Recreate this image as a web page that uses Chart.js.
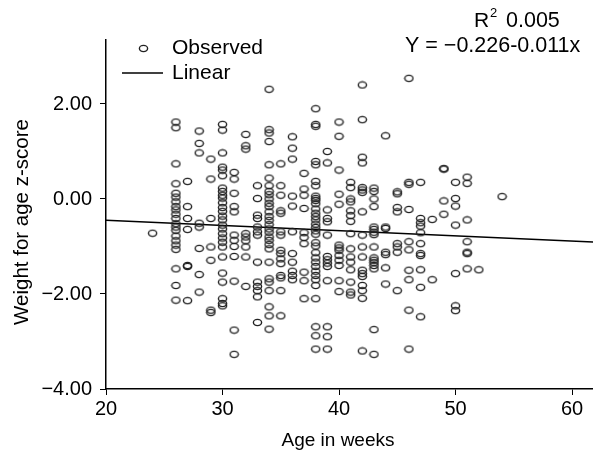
<!DOCTYPE html>
<html lang="en">
<head>
<meta charset="UTF-8">
<title>Weight for age z-score by age</title>
<script src="https://cdn.jsdelivr.net/npm/chart.js"></script>
<style>
  body { margin: 0; background: #fff; }
  .wrap { position: relative; width: 593px; height: 459px; }
</style>
</head>
<body>
<div class="wrap"><canvas id="scatterChart"></canvas></div>
<script>
  const weeks = [24, 26, 27, 28, 29, 30, 31, 32, 33, 34, 35, 36, 37, 38, 39, 40, 41, 42, 43, 44, 45, 46, 47, 48, 49, 50, 51, 52, 54];
  const zScores = [
    [-0.72],
    [1.62, 1.50, 0.74, 0.32, 0.12, 0.04, -0.06, -0.16, -0.23, -0.32, -0.41, -0.52, -0.59, -0.66, -0.78, -0.88, -0.97, -1.06, -1.47, -1.82, -2.13],
    [0.37, -0.16, -0.41, -0.64, -1.40, -1.42, -2.14],
    [1.43, 1.17, 0.97, -0.51, -0.59, -1.04, -1.59, -1.96],
    [0.84, 0.42, -0.41, -1.01, -1.29, -2.34, -2.39],
    [1.57, 1.45, 0.97, 0.67, 0.61, 0.49, 0.23, 0.16, 0.08, 0.02, -0.08, -0.18, -0.26, -0.36, -0.44, -0.55, -0.63, -0.73, -0.82, -0.91, -1.01, -1.22, -1.56, -1.75, -2.10, -2.20, -2.25],
    [0.56, 0.42, 0.12, -0.16, -0.27, -0.76, -0.87, -1.00, -1.21, -1.73, -2.76, -3.27],
    [1.36, 1.12, 1.05, -0.73, -0.80, -0.88, -1.01, -1.22, -1.84],
    [0.28, 0.01, -0.34, -0.41, -0.59, -0.69, -0.76, -1.33, -1.75, -1.84, -1.93, -2.06, -2.60],
    [2.31, 1.46, 1.39, 1.21, 0.72, 0.44, 0.28, 0.16, 0.09, 0.00, -0.09, -0.16, -0.27, -0.37, -0.45, -0.54, -0.63, -0.70, -0.80, -0.87, -0.96, -1.05, -1.33, -1.68, -1.75, -1.93, -2.27, -2.46, -2.74],
    [0.74, 0.28, 0.08, -0.25, -0.30, -0.69, -0.76, -1.08, -1.15, -1.26, -1.36, -1.61, -1.66, -1.93, -2.46],
    [1.31, 1.07, 0.84, 0.06, -0.15, -0.69, -1.15, -1.33, -1.52, -1.61, -1.70],
    [0.54, 0.21, 0.08, -0.20, -0.71, -0.81, -0.94, -1.54, -1.72, -2.10],
    [1.90, 1.57, 1.53, 0.79, 0.72, 0.37, 0.28, 0.06, 0.01, -0.03, -0.10, -0.21, -0.30, -0.37, -0.44, -0.53, -0.60, -0.67, -0.74, -0.92, -0.99, -1.13, -1.24, -1.33, -1.42, -1.52, -1.61, -1.70, -1.82, -2.10, -2.69, -2.88, -3.16],
    [1.00, 0.76, -0.23, -0.41, -0.48, -0.76, -1.21, -1.28, -1.35, -1.42, -1.72, -2.69, -2.90, -3.16],
    [1.62, 1.32, 0.61, 0.10, -0.11, -0.97, -1.03, -1.08, -1.19, -1.29, -1.40, -1.72, -1.95],
    [0.35, 0.24, 0.00, -0.06, -0.25, -0.35, -0.47, -0.73, -1.05, -1.22, -1.33, -1.49, -1.75, -1.96, -2.02],
    [2.40, 1.67, 0.88, 0.76, 0.24, 0.19, 0.14, -0.27, -0.76, -1.01, -1.22, -1.50, -1.57, -1.63, -1.82, -1.93, -2.09, -3.20],
    [0.23, 0.16, 0.00, -0.16, -0.59, -0.64, -0.70, -0.75, -1.01, -1.24, -1.29, -1.34, -1.40, -1.47, -2.75, -3.27],
    [1.33, -0.59, -0.62, -1.12, -1.17, -1.45, -1.79],
    [0.15, 0.11, -0.18, -0.27, -0.94, -1.01, -1.12, -1.93],
    [2.54, 0.35, 0.31, -0.22, -0.90, -1.07, -1.50, -1.70, -2.34, -3.16],
    [0.35, -0.41, -0.50, -0.57, -0.71, -0.94, -1.15, -1.19, -1.49, -1.86, -2.48],
    [-0.43, -1.70],
    [0.63, 0.64, -0.04, -0.32],
    [0.35, 0.01, -0.15, -0.55, -1.57, -2.25, -2.35],
    [0.46, 0.33, -0.44, -0.90, -1.12, -1.15, -1.47],
    [-1.49],
    [0.05]
  ];

  // linear fit printed on the figure
  const fitIntercept = -0.226;
  const fitSlope = -0.011;
  const fitRange = [20, 62];

  const xTicks = [20, 30, 40, 50, 60];
  const yTicks = [-4, -2, 0, 2];

  const FONT = "'Liberation Sans', Arial, sans-serif";

  // points
  const observed = [];
  weeks.forEach((w, i) => {
    zScores[i].forEach(z => observed.push({ x: w, y: z }));
  });
  const fitLine = fitRange.map(x => ({ x: x, y: fitIntercept + fitSlope * x }));

  // hollow, slightly flattened ring as marker
  const ring = document.createElement('canvas');
  ring.width = 11;
  ring.height = 9;
  const rc = ring.getContext('2d');
  rc.strokeStyle = '#222';
  rc.lineWidth = 1.4;
  rc.beginPath();
  rc.ellipse(5.5, 4.5, 4.1, 3.1, 0, 0, Math.PI * 2);
  rc.stroke();

  const fmt = v => v.toFixed(2).replace('-', '\u2212');

  // legend, fit annotation and axis titles
  const textPlugin = {
    id: 'texts',
    afterDraw(chart) {
      const c = chart.ctx;
      c.save();
      c.fillStyle = '#000';
      c.textBaseline = 'middle';
      c.font = '21px ' + FONT;

      // legend
      c.drawImage(ring, 138, 44);
      c.fillText('Observed', 172, 48);
      c.strokeStyle = '#000';
      c.lineWidth = 1.3;
      c.beginPath();
      c.moveTo(122, 73);
      c.lineTo(163, 73);
      c.stroke();
      c.fillText('Linear', 172, 73);

      // R squared + equation
      c.fillText('R', 474, 21);
      c.font = '13px ' + FONT;
      c.fillText('2', 490, 13);
      c.font = '21.5px ' + FONT;
      c.fillText('0.005', 506, 21);
      c.fillText('Y = \u22120.226-0.011x', 405, 46);

      // axis titles
      c.textAlign = 'center';
      c.font = '19px ' + FONT;
      c.fillText('Age in weeks', 338, 441);
      c.font = '20.5px ' + FONT;
      c.translate(22, 222);
      c.rotate(-Math.PI / 2);
      c.fillText('Weight for age z-score', 0, 0);
      c.restore();
    }
  };

  new Chart(document.getElementById('scatterChart'), {
    type: 'scatter',
    data: {
      datasets: [
        {
          label: 'Observed',
          data: observed,
          pointStyle: ring,
          pointRadius: 4,
          pointHoverRadius: 4
        },
        {
          label: 'Linear',
          type: 'line',
          data: fitLine,
          borderColor: '#000',
          borderWidth: 1.6,
          pointRadius: 0,
          fill: false
        }
      ]
    },
    options: {
      responsive: true,
      maintainAspectRatio: false,
      animation: false,
      // no automatic padding, the plot runs to the right edge
      layout: { autoPadding: false, padding: { top: 40, right: 0, left: 0, bottom: 0 } },
      plugins: {
        legend: { display: false },
        tooltip: { enabled: false }
      },
      scales: {
        x: {
          type: 'linear',
          min: 20,
          max: 61.8,
          afterBuildTicks: axis => { axis.ticks = xTicks.map(v => ({ value: v })); },
          afterFit: axis => { axis.height = 70; },
          grid: { drawOnChartArea: false, drawTicks: true, tickLength: 6, color: '#000' },
          border: { color: '#000', width: 1.5 },
          ticks: { color: '#000', font: { family: FONT, size: 20 }, padding: 2, maxRotation: 0 }
        },
        y: {
          min: -4,
          max: 3.347,
          afterBuildTicks: axis => { axis.ticks = yTicks.map(v => ({ value: v })); },
          afterFit: axis => { axis.width = 106; },
          grid: { drawOnChartArea: false, drawTicks: true, tickLength: 6, color: '#000' },
          border: { color: '#000', width: 1.5 },
          ticks: { color: '#000', font: { family: FONT, size: 20 }, padding: 8, callback: v => fmt(v) }
        }
      }
    },
    plugins: [textPlugin]
  });
</script>
</body>
</html>
